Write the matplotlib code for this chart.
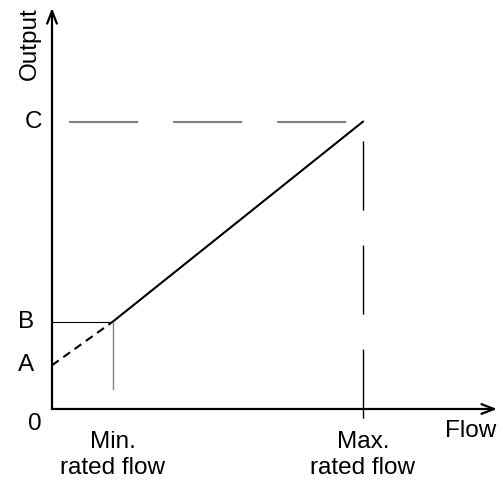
import matplotlib
matplotlib.use("Agg")
from matplotlib import pyplot as plt

plt.rcParams["font.family"] = ["Liberation Sans", "DejaVu Sans"]
plt.rcParams["lines.scale_dashes"] = False

# chart values (arbitrary units, origin at 0)
flow_ticks = [1.0, 5.1]                       # min / max rated flow
flow_labels = ["Min.\nrated flow", "Max.\nrated flow"]
output_ticks = [0.0, 1.0, 2.0, 6.57]          # 0, A, B, C
output_labels = ["0", "A", "B", "C"]
x_end, y_end = 7.3, 9.17

W, H = 503, 486
fig = plt.figure(figsize=(W / 100, H / 100), dpi=100)
ax = fig.add_axes([52 / W, (H - 409) / H, (497 - 52) / W, (409 - 8) / H])
ax.set_xlim(0, x_end)
ax.set_ylim(0, y_end)
ax.axis("off")

x_min, x_max = flow_ticks
y0, y_a, y_b, y_c = output_ticks

# axes with open arrow heads
arr = dict(arrowstyle="->,head_length=0.9,head_width=0.35", lw=1.6, color="black",
           shrinkA=0, shrinkB=0)
ax.annotate("", xy=(0, y_end), xytext=(0, 0), arrowprops=arr, annotation_clip=False)
ax.annotate("", xy=(x_end, 0), xytext=(0, 0), arrowprops=arr, annotation_clip=False)

# characteristic
ax.plot([0, x_min], [y_a, y_b], color="black", lw=1.5, ls=(0, (6, 4)), solid_capstyle="butt")
ax.plot([x_min, x_max], [y_b, y_c], color="black", lw=1.5)

# guide lines
ax.plot([-0.16, x_min], [y_b, y_b], color="black", lw=0.8)
ax.plot([-0.16, 0], [y_a, y_a], color="gray", lw=1.0)
ax.plot([x_min, x_min], [y_b, 0.45], color="gray", lw=1.0)
ax.plot([0, x_max], [y_c, y_c], color="gray", lw=1.5, ls=(62.6, (49.7, 25.2)))
ax.plot([x_max, x_max], [y_c, -0.22], color="black", lw=1.0, ls=(61.2, (49.7, 25.2)),
        clip_on=False)

fs = 17.5
label_x = [-0.42, -0.42, -0.3]
for x, y, lab in zip(label_x, output_ticks[1:], output_labels[1:]):
    ax.text(x, y, lab, fontsize=fs, ha="center", va="center", clip_on=False)
ax.text(-0.28, -0.35, output_labels[0], fontsize=fs, ha="center", va="center")

for x, lab in zip(flow_ticks, flow_labels):
    ax.text(x, -0.5, lab, fontsize=fs, ha="center", va="top", linespacing=1.22)

ax.text(6.86, -0.5, "Flow", fontsize=fs, ha="center", va="center")
ax.text(-0.36, 8.35, "Output", fontsize=fs, ha="center", va="center", rotation=90)

fig.savefig("out.png", dpi=100)
